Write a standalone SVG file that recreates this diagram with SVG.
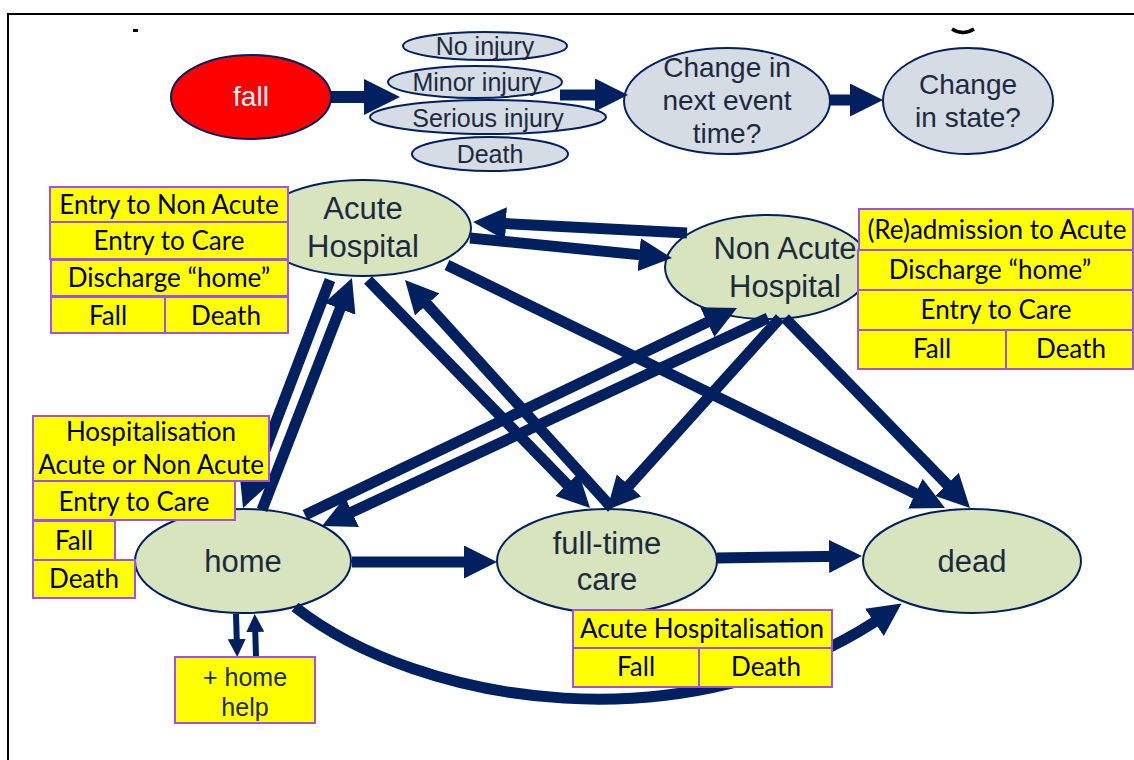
<svg xmlns="http://www.w3.org/2000/svg" width="1134" height="760" viewBox="0 0 1134 760">
<defs>
<marker id="ah" viewBox="0 0 10 10" refX="5" refY="5" markerWidth="3" markerHeight="3" orient="auto" markerUnits="strokeWidth">
<path d="M0,0 L10,5 L0,10 z" fill="#002060"/>
</marker>
<style>
.st{fill:#D7E4BD;stroke:#002060;stroke-width:2}
.ev{fill:#D5DCE4;stroke:#002060;stroke-width:2}
.lt{font-family:"Liberation Sans",Arial,sans-serif;fill:#1B2A41;text-anchor:middle}
.bx{fill:#FFFF00;stroke:#A050F0;stroke-width:2}
.bt{font-family:Lato,"Open Sans",sans-serif;font-size:26px;fill:#000;text-anchor:middle}
.c{fill:none;stroke:#002060;stroke-width:11;marker-end:url(#ah)}
.cs{fill:none;stroke:#002060;stroke-width:6;marker-end:url(#ah)}
</style>
</defs>
<rect width="1134" height="760" fill="#fff"/>
<path d="M8,760 V14 H1134" fill="none" stroke="#000" stroke-width="2"/>
<rect x="133" y="29" width="5" height="3" fill="#000"/>
<path d="M952,29 Q963,36 974,29" fill="none" stroke="#000" stroke-width="3.5"/>

<g id="fall"><ellipse cx="251" cy="97" rx="80" ry="42" fill="#FF0000" stroke="#002060" stroke-width="2"/><text class="lt" x="251" y="106" font-size="28" style="fill:#fff">fall</text></g>
<g id="no-injury"><ellipse class="ev" cx="485" cy="46" rx="82" ry="14"/><text class="lt" x="485" y="55" font-size="25">No injury</text></g>
<g id="minor-injury"><ellipse class="ev" cx="475" cy="82" rx="87" ry="16"/><text class="lt" x="477" y="91" font-size="25">Minor injury</text></g>
<g id="serious-injury"><ellipse class="ev" cx="488" cy="117" rx="118" ry="17"/><text class="lt" x="488" y="127" font-size="25">Serious injury</text></g>
<g id="death-injury"><ellipse class="ev" cx="490" cy="154" rx="78" ry="17"/><text class="lt" x="490" y="163" font-size="25">Death</text></g>
<g id="change-time"><ellipse class="ev" cx="727" cy="101" rx="103" ry="53"/><text class="lt" font-size="28"><tspan x="727" y="77">Change in</tspan><tspan x="727" y="110">next event</tspan><tspan x="727" y="143">time?</tspan></text></g>
<g id="change-state"><ellipse class="ev" cx="968" cy="101" rx="85" ry="53"/><text class="lt" font-size="28"><tspan x="968" y="94">Change</tspan><tspan x="968" y="127">in state?</tspan></text></g>

<g id="acute"><ellipse class="st" cx="363" cy="228" rx="108" ry="48"/><text class="lt" font-size="31"><tspan x="363" y="219">Acute</tspan><tspan x="363" y="257">Hospital</tspan></text></g>
<g id="nonacute"><ellipse class="st" cx="768" cy="267" rx="103" ry="52"/><text class="lt" font-size="31"><tspan x="785" y="259">Non Acute</tspan><tspan x="785" y="297">Hospital</tspan></text></g>
<g id="home"><ellipse class="st" cx="243" cy="561" rx="108" ry="52"/><text class="lt" x="243" y="572" font-size="31">home</text></g>
<g id="fulltime"><ellipse class="st" cx="607" cy="561" rx="110" ry="52"/><text class="lt" font-size="31"><tspan x="607" y="554">full-time</tspan><tspan x="607" y="590">care</tspan></text></g>
<g id="dead"><ellipse class="st" cx="972" cy="561" rx="109" ry="52"/><text class="lt" x="972" y="572" font-size="31">dead</text></g>

<g id="connectors">
<path class="c" style="stroke-width:12" d="M330,97 L382,97"/>
<path class="c" d="M560,95 L611.5,95"/>
<path class="c" d="M830,100 L866.5,100"/>
<path class="c" d="M687,233 L489.5,222.8"/>
<path class="c" d="M470,238 L655.6,256.4"/>
<path class="c" d="M262,510 L346,293.4"/>
<path class="c" d="M330,280 L248.9,492.6"/>
<path class="c" d="M368,280 L578.5,496.2"/>
<path class="c" d="M612,508 L416.1,292.2"/>
<path class="c" d="M447,265 L930.2,500.8"/>
<path class="c" d="M785,318 L958.5,496.2"/>
<path class="c" d="M780,318 L618,497.7"/>
<path class="c" d="M305,515 L722.1,315.1"/>
<path class="c" d="M768,318 L337,519"/>
<path class="c" d="M352,562 L480.5,562"/>
<path class="c" d="M717,558 L845.5,556.2"/>
<path class="c" d="M295,607 C420,705 690,750 888,613"/>
<path class="cs" d="M236,614 L237,648"/>
<path class="cs" d="M256,657 L255,623"/>
</g>

<g id="acute-box">
<rect class="bx" x="50" y="187" width="238" height="35"/>
<rect class="bx" x="50" y="222" width="238" height="37"/>
<rect class="bx" x="51" y="260" width="237" height="36"/>
<rect class="bx" x="51" y="297" width="114" height="36"/>
<rect class="bx" x="165" y="297" width="123" height="36"/>
<text class="bt" x="169" y="214">Entry to Non Acute</text>
<text class="bt" x="169" y="250">Entry to Care</text>
<text class="bt" x="169" y="287">Discharge “home”</text>
<text class="bt" x="108" y="325">Fall</text>
<text class="bt" x="226" y="325">Death</text>
</g>
<g id="nonacute-box">
<rect class="bx" x="859" y="209" width="274" height="41"/>
<rect class="bx" x="858" y="250" width="275" height="40"/>
<rect class="bx" x="858" y="290" width="275" height="40"/>
<rect class="bx" x="858" y="330" width="148" height="39"/>
<rect class="bx" x="1006" y="330" width="127" height="39"/>
<text class="bt" x="997" y="239">(Re)admission to Acute</text>
<text class="bt" x="990" y="279">Discharge “home”</text>
<text class="bt" x="996" y="319">Entry to Care</text>
<text class="bt" x="932" y="358">Fall</text>
<text class="bt" x="1071" y="358">Death</text>
</g>
<g id="home-box">
<rect class="bx" x="33" y="416" width="236" height="65"/>
<rect class="bx" x="33" y="481" width="202" height="39"/>
<rect class="bx" x="33" y="521" width="82" height="39"/>
<rect class="bx" x="33" y="560" width="102" height="38"/>
<text class="bt" x="151" y="441">Hospitalisation</text>
<text class="bt" x="151" y="474">Acute or Non Acute</text>
<text class="bt" x="134" y="511">Entry to Care</text>
<text class="bt" x="74" y="550">Fall</text>
<text class="bt" x="84" y="588">Death</text>
</g>
<g id="homehelp">
<rect class="bx" x="175" y="657" width="140" height="66"/>
<text class="lt" font-size="25" style="fill:#1B2A41"><tspan x="245" y="686">+ home</tspan><tspan x="245" y="716">help</tspan></text>
</g>
<g id="fulltime-box">
<rect class="bx" x="573" y="610" width="259" height="38"/>
<rect class="bx" x="573" y="648" width="126" height="39"/>
<rect class="bx" x="699" y="648" width="133" height="39"/>
<text class="bt" x="702" y="638">Acute Hospitalisation</text>
<text class="bt" x="636" y="676">Fall</text>
<text class="bt" x="766" y="676">Death</text>
</g>
</svg>
